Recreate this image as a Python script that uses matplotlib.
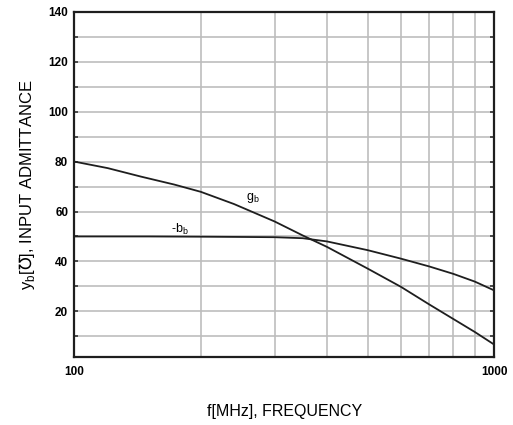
import matplotlib
matplotlib.use('Agg')
import matplotlib.pyplot as plt
import matplotlib.ticker as ticker

# frequency in MHz
freq_g = [100, 120, 144, 173, 200, 240, 300, 350, 400, 500, 600, 700, 800, 900, 1000]
g_b = [80, 77.4, 74.0, 70.8, 67.9, 63.0, 56.0, 50.4, 45.8, 37.1, 29.8, 22.8, 16.9, 11.7, 6.7]

freq_b = [100, 150, 200, 250, 300, 350, 400, 500, 600, 700, 800, 900, 1000]
minus_b_b = [50, 50, 49.9, 49.8, 49.7, 49.3, 48.0, 44.5, 41.1, 38.0, 35.0, 31.9, 28.4]

y_ticks = [20, 40, 60, 80, 100, 120, 140]
x_ticks = [100, 1000]
x_grid = [200, 300, 400, 500, 600, 700, 800, 900]

fonts = ['Liberation Sans', 'DejaVu Sans']

fig = plt.figure(figsize=(5.13, 4.25), dpi=100)
ax = fig.add_axes([0.1452, 0.159, 0.8178, 0.8128])

ax.plot(freq_g, g_b, color='#1e1e1e', linewidth=1.3)
ax.plot(freq_b, minus_b_b, color='#1e1e1e', linewidth=1.3)

ax.text(256, 64.6, 'g$_\\mathregular{b}$', fontsize=9, family=fonts)
ax.text(170, 51.6, '-b$_\\mathregular{b}$', fontsize=9, family=fonts)

ax.set_xscale('log')
ax.set_xlim(100, 1000)
ax.set_ylim(1.5, 140)

ax.xaxis.set_major_locator(ticker.FixedLocator(x_ticks))
ax.xaxis.set_major_formatter(ticker.FixedFormatter([str(v) for v in x_ticks]))
ax.xaxis.set_minor_locator(ticker.FixedLocator(x_grid))
ax.xaxis.set_minor_formatter(ticker.NullFormatter())

ax.yaxis.set_major_locator(ticker.FixedLocator(y_ticks))
ax.yaxis.set_major_formatter(ticker.FixedFormatter([str(v) for v in y_ticks]))
ax.yaxis.set_minor_locator(ticker.MultipleLocator(10))

ax.grid(True, which='both', axis='both', color='#bdbdbd', linewidth=1.2)
ax.set_axisbelow(True)

ax.tick_params(axis='x', which='both', length=0, pad=6)
ax.tick_params(axis='y', which='both', direction='in', length=3, width=1.2,
               left=True, right=True, pad=4.5, color='#333333')
for lab in ax.get_xticklabels() + ax.get_yticklabels():
    lab.set_fontsize(8.5)
    lab.set_fontweight('bold')
    lab.set_family(fonts)

for sp in ax.spines.values():
    sp.set_linewidth(1.6)
    sp.set_color('#1e1e1e')

ax.set_xlabel('f[MHz], FREQUENCY', fontsize=11.5, family=fonts)
ax.xaxis.set_label_coords(0.5, -0.157)
ax.xaxis.label.set_va('center')
ax.set_ylabel('y$_\\mathregular{b}$[$\\mho$], INPUT ADMITTANCE', fontsize=12, family=fonts)
ax.yaxis.set_label_coords(-0.113, 0.5)
ax.yaxis.label.set_va('center')

fig.savefig('out.png', dpi=100)
